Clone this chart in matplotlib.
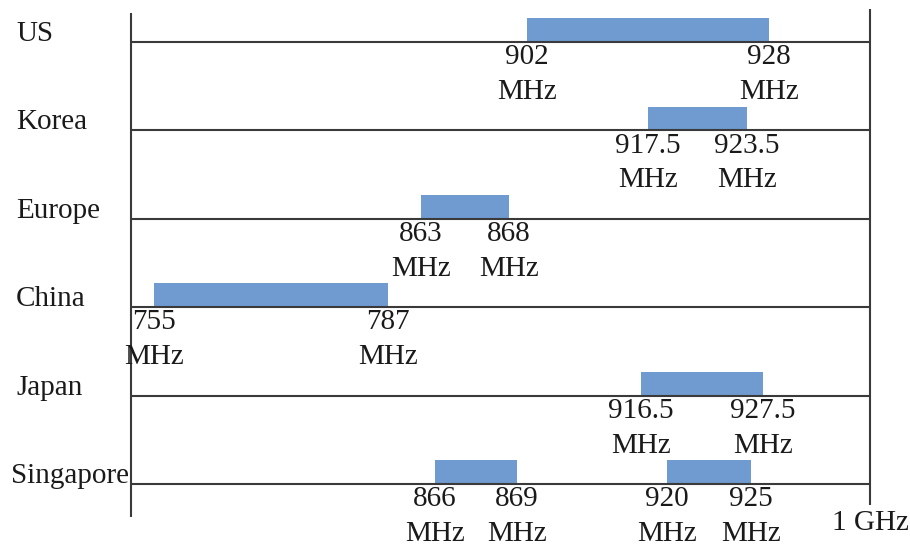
import numpy as np
import matplotlib
matplotlib.use("Agg")
import matplotlib.pyplot as plt

# UHF RFID bands per region (MHz)
regions = ["US", "Korea", "Europe", "China", "Japan", "Singapore"]
band_lo = [[902], [917.5], [863], [755], [916.5], [866, 920]]
band_hi = [[928], [923.5], [868], [787], [927.5], [869, 925]]

# the original sketch is schematic, not to scale: warp the axis the same way
scale_mhz = [750, 755, 787, 863, 866, 868, 869, 902, 916.5, 917.5, 920, 923.5, 925, 927.5, 928, 1000]
scale_pos = [0, 23, 257, 290, 304, 378, 386, 396, 510, 517, 536, 616, 620, 632, 638, 739]

def fwd(x):
    return np.interp(x, scale_mhz, scale_pos)

def inv(x):
    return np.interp(x, scale_pos, scale_mhz)

def fmt(v):
    return f"{v:g}"

plt.rcParams['font.family'] = ['Liberation Serif', 'DejaVu Serif']
txt = dict(fontsize=21, color='#1a1a1a')
bar_color = '#6f9bd1'
line_color = '#3a3a3a'

fig = plt.figure(figsize=(9.1, 5.47), dpi=100)
ax = fig.add_axes([131 / 910, 0, 739 / 910, 1])
ax.set_xscale('function', functions=(fwd, inv))
ax.set_xlim(750, 1000)
ax.set_ylim(5.713, -0.475)
ax.axis('off')

rows = np.arange(len(regions))
ax.hlines(rows, 750, 1000, color=line_color, lw=1.5, zorder=3)
ax.vlines(750, -0.33, 5.37, color=line_color, lw=1.5, clip_on=False, zorder=3)
ax.vlines(1000, -0.375, 5.24, color=line_color, lw=1.5, clip_on=False, zorder=3)

for i, name in enumerate(regions):
    for lo, hi in zip(band_lo[i], band_hi[i]):
        ax.barh(i - 0.135, hi - lo, left=lo, height=0.27, color=bar_color, zorder=2)
        for f in (lo, hi):
            ax.annotate(fmt(f), (f, i), xytext=(0, -16), textcoords='offset points',
                        ha='center', va='baseline', annotation_clip=False, **txt)
            ax.annotate("MHz", (f, i), xytext=(0, -41), textcoords='offset points',
                        ha='center', va='baseline', annotation_clip=False, **txt)
    lx = 11 if name == "Singapore" else 16
    ax.annotate(name, (750, i), xytext=(lx, 1),
                textcoords=('figure pixels', 'offset pixels'),
                ha='left', va='baseline', annotation_clip=False, **txt)

ax.annotate("1 GHz", (1000, len(regions) - 1), xytext=(0, -33), textcoords='offset points',
            ha='center', va='baseline', annotation_clip=False, **txt)

fig.savefig("out.png", dpi=100)
